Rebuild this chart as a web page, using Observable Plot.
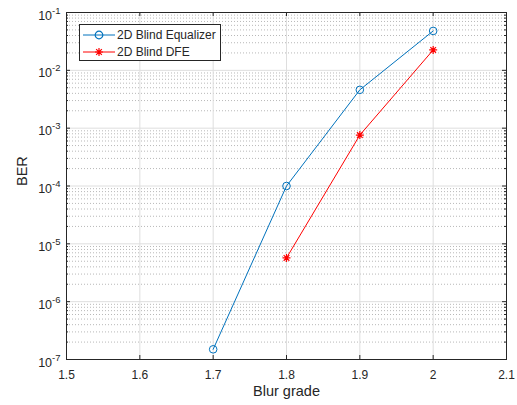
<!DOCTYPE html>
<html>
<head>
<meta charset="utf-8">
<script src="https://cdn.jsdelivr.net/npm/d3@7"></script>
<script src="https://cdn.jsdelivr.net/npm/@observablehq/plot@0.6"></script>
<style>
  html, body { margin: 0; padding: 0; background: #fff; }
  svg { font-family: "Liberation Sans", Arial, sans-serif; }
</style>
</head>
<body>
<div id="chart"></div>
<script>
// ---- data ----
const blurEq = [1.7, 1.8, 1.9, 2.0];
const berEq = [1.5e-7, 1.0e-4, 4.6e-3, 4.8e-2];
const blurDfe = [1.8, 1.9, 2.0];
const berDfe = [5.7e-6, 7.6e-4, 2.25e-2];
const seriesNames = ["2D Blind Equalizer", "2D Blind DFE"];
const xTicks = [1.5, 1.6, 1.7, 1.8, 1.9, 2.0, 2.1];
const yExps = [-7, -6, -5, -4, -3, -2, -1];

const yMajor = yExps.map(e => Math.pow(10, e));
const yMinor = [];
for (let e = -7; e < -1; e++) for (let k = 2; k <= 9; k++) yMinor.push(k * Math.pow(10, e));

const eqData = blurEq.map((x, i) => ({x, y: berEq[i]}));
const dfeData = blurDfe.map((x, i) => ({x, y: berDfe[i]}));

const W = 517, H = 405, mL = 66, mR = 11, mT = 12, mB = 46;
const pw = W - mL - mR, ph = H - mT - mB;
const ink = "#262626";
const blue = "#0072BD", red = "#FF0000";

const asterisk = {
  draw(ctx, size) {
    const r = Math.sqrt(size / Math.PI);
    const d = r * Math.SQRT1_2;
    ctx.moveTo(-r, 0); ctx.lineTo(r, 0);
    ctx.moveTo(0, -r); ctx.lineTo(0, r);
    ctx.moveTo(-d, -d); ctx.lineTo(d, d);
    ctx.moveTo(-d, d); ctx.lineTo(d, -d);
  }
};

const chart = Plot.plot({
  width: W, height: H,
  marginLeft: mL, marginRight: mR, marginTop: mT, marginBottom: mB,
  style: {fontFamily: '"Liberation Sans", Arial, sans-serif', fontSize: "12px", color: ink, background: "#fff"},
  x: {domain: [1.5, 2.1]},
  y: {type: "log", domain: [1e-7, 1e-1]},
  marks: [
    Plot.ruleY(yMinor, {stroke: "#b8b8b8", strokeWidth: 1, strokeDasharray: "1,2"}),
    Plot.ruleY(yMajor, {stroke: "#dedede", strokeWidth: 1}),
    Plot.ruleX(xTicks, {stroke: "#dedede", strokeWidth: 1}),
    Plot.line(eqData, {x: "x", y: "y", stroke: blue, strokeWidth: 1}),
    Plot.dot(eqData, {x: "x", y: "y", stroke: blue, fill: "none", r: 3.8, strokeWidth: 1}),
    Plot.line(dfeData, {x: "x", y: "y", stroke: red, strokeWidth: 1}),
    Plot.dot(dfeData, {x: "x", y: "y", stroke: red, fill: "none", r: 4, strokeWidth: 1.2, symbol: asterisk}),
    // inward ticks
    Plot.tickX(xTicks, {x: d => d, stroke: ink, insetTop: ph - 4}),
    Plot.tickX(xTicks, {x: d => d, stroke: ink, insetBottom: ph - 4}),
    Plot.tickY(yMajor, {y: d => d, stroke: ink, insetRight: pw - 4}),
    Plot.tickY(yMajor, {y: d => d, stroke: ink, insetLeft: pw - 4}),
    Plot.tickY(yMinor, {y: d => d, stroke: ink, insetRight: pw - 2}),
    Plot.tickY(yMinor, {y: d => d, stroke: ink, insetLeft: pw - 2}),
    Plot.frame({stroke: ink, strokeWidth: 1}),
    Plot.axisX(xTicks, {tickSize: 0, tickPadding: 11, label: null, fill: ink, fontSize: 12,
      tickFormat: d => String(+d.toFixed(1))}),
    Plot.axisY(yMajor, {tickSize: 0, tickPadding: 6, label: null, fill: ink, fontSize: 12,
      tickFormat: d => "10" + Math.round(Math.log10(d)), className: "ylog"}),
    Plot.text(["Blur grade"], {frameAnchor: "bottom", dy: 36, fontSize: 14.5, fill: ink}),
    Plot.text(["BER"], {frameAnchor: "left", dx: -44.5, rotate: -90, fontSize: 14.5, fill: ink})
  ]
});

document.getElementById("chart").appendChild(chart);

// superscript exponents on y tick labels
d3.select(chart).selectAll(".ylog text").each(function() {
  const t = this.textContent;
  if (!t.startsWith("10")) return;
  const exp = t.slice(2);
  const sel = d3.select(this);
  sel.text(null).attr("y", null).attr("dy", null);
  sel.append("tspan").text("10").attr("dy", "7px").style("font-size", "12.5px");
  sel.append("tspan").text(exp).attr("dy", "-6px").style("font-size", "9.5px");
});

// legend
const svg = d3.select(chart);
const lg = svg.append("g").attr("aria-label", "legend").attr("text-anchor", "start");
lg.append("rect").attr("x", 79.5).attr("y", 24.5).attr("width", 141).attr("height", 36)
  .attr("fill", "#fff").attr("stroke", ink).attr("stroke-width", 1);
const rows = [
  {name: seriesNames[0], color: blue, sym: d3.symbolCircle, r: 3.8},
  {name: seriesNames[1], color: red, sym: asterisk, r: 4}
];
rows.forEach((r, i) => {
  const cy = 35 + i * 17;
  lg.append("line").attr("x1", 83).attr("x2", 115).attr("y1", cy).attr("y2", cy)
    .attr("stroke", r.color).attr("stroke-width", 1);
  lg.append("path").attr("transform", `translate(99,${cy})`)
    .attr("d", d3.symbol(r.sym, Math.PI * r.r * r.r)())
    .attr("fill", "none").attr("stroke", r.color).attr("stroke-width", 1.2);
  lg.append("text").attr("x", 117).attr("y", cy).attr("dy", "0.35em")
    .attr("text-anchor", "start").attr("font-size", 12).attr("fill", ink).text(r.name);
});
</script>
</body>
</html>
